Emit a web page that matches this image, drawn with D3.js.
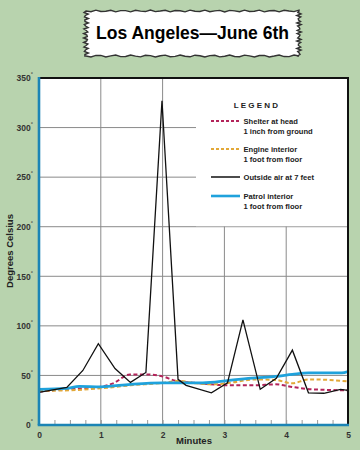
<!DOCTYPE html>
<html><head><meta charset="utf-8">
<script src="https://cdn.jsdelivr.net/npm/d3@7"></script>
<style>body{margin:0;background:#b8d3ae;}svg{display:block;}</style>
</head><body>
<script>
const minutesBlack = [0,0.45,0.71,0.96,1.23,1.48,1.73,1.99,2.25,2.38,2.79,3.05,3.30,3.58,3.84,4.10,4.36,4.61,4.88,5];
const outsideAir  = [33,38,55,82,57,43,53,327,46,40,32.5,42.5,106,36,47,75.5,32.5,32,36,35];
const minutesBlue = [0,0.45,0.65,1.0,1.48,2.0,2.33,2.65,3.08,3.5,3.83,4.1,4.36,4.68,4.9,5];
const patrol      = [36,37,39,38.5,41,42.5,42.5,42.5,45,47.5,49,51,52.5,52.5,52.5,54];
const minutesRed  = [0,0.4,0.93,1.2,1.47,1.74,2.0,2.22,2.54,3.08,3.5,3.82,4.14,4.42,5];
const shelter     = [33.5,36,38,42,51,51,49,44.5,42.5,40,40,41,38,36,35];
const minutesOrg  = [0,0.5,1.0,1.48,2.0,2.27,2.54,2.87,3.08,3.5,3.82,4.1,4.36,4.68,5];
const engine      = [34.5,35,37,40,42.5,44.5,42,41,42.5,46,45.5,42,46,45.5,44];
const yTicks = [0,50,100,150,200,250,300,350];
const xTicks = [0,1,2,3,4,5];
const legendLabels = [["Shelter at head","1 inch from ground"],["Engine interior","1 foot from floor"],["Outside air at 7 feet"],["Patrol interior","1 foot from floor"]];
const title = "Los Angeles\u2014June 6th";

const W=360,H=450;
const svg=d3.select("body").append("svg").attr("width",W).attr("height",H);
svg.append("rect").attr("width",W).attr("height",H).attr("fill","#b8d3ae");

const x=d3.scaleLinear().domain([0,5]).range([39,348]);
const y=d3.scaleLinear().domain([0,350]).range([425,78]);
const font="Liberation Sans, Arial, sans-serif";

// Title box with rough edge
(function(){
  const x0=86,x1=299,y0=11,y1=56;
  const pts=[];
  for(let i=0;i<=43;i++){const t=x0+(x1-x0)*i/43;pts.push([t,y0+Math.sin(i*2.3)*0.9]);}
  for(let i=0;i<=30;i++){const t=y0+(y1-y0)*i/30;pts.push([x1+Math.sin(i*3.7)*2.2,t]);}
  for(let i=43;i>=0;i--){const t=x0+(x1-x0)*i/43;pts.push([t,y1+Math.sin(i*1.9)*1.0]);}
  for(let i=30;i>=0;i--){const t=y0+(y1-y0)*i/30;pts.push([x0+Math.sin(i*4.1)*2.4,t]);}
  svg.append("path").attr("d",d3.line()(pts)+"Z").attr("fill","#fff").attr("stroke","#333").attr("stroke-width",1.4);
  svg.append("text").attr("x",192.5).attr("y",38.5).attr("text-anchor","middle")
    .attr("font-family",font).attr("font-weight","bold").attr("font-size",17.5).attr("fill","#000").text(title);
})();

// plot background
svg.append("rect").attr("x",x(0)).attr("y",y(350)).attr("width",x(5)-x(0)).attr("height",y(0)-y(350)).attr("fill","#fff");

// grid
const g=svg.append("g");
g.selectAll("line.v").data(xTicks.slice(1,-1)).join("line").attr("x1",d=>x(d)).attr("x2",d=>x(d))
  .attr("y1",y(350)).attr("y2",y(0)).attr("stroke","#8a8a8a").attr("stroke-width",1);
g.selectAll("line.h").data(yTicks.slice(1,-1)).join("line").attr("y1",d=>y(d)).attr("y2",d=>y(d))
  .attr("x1",x(0)).attr("x2",x(5)).attr("stroke","#8a8a8a").attr("stroke-width",1);

// minor ticks
const minor=d3.range(1,20).map(i=>i*0.25);
svg.append("g").attr("transform",`translate(0,${y(0)})`)
  .call(d3.axisBottom(x).tickValues(minor).tickSize(-5).tickFormat(""))
  .call(a=>a.select(".domain").remove())
  .call(a=>a.selectAll("line").attr("stroke","#999"));

// legend box
svg.append("rect").attr("x",196).attr("y",y(350)+1).attr("width",x(5)-196).attr("height",y(200)-y(350)-1.5).attr("fill","#fff");

// lines
const line=(xs)=>d3.line().x((d,i)=>x(xs[i])).y(d=>y(d));
svg.append("path").datum(shelter).attr("d",line(minutesRed).curve(d3.curveMonotoneX)).attr("fill","none")
  .attr("stroke","#b3245a").attr("stroke-width",2).attr("stroke-dasharray","4,2.5");
svg.append("path").datum(engine).attr("d",line(minutesOrg).curve(d3.curveMonotoneX)).attr("fill","none")
  .attr("stroke","#e2a838").attr("stroke-width",2).attr("stroke-dasharray","4,2.5");
svg.append("path").datum(patrol).attr("d",line(minutesBlue).curve(d3.curveMonotoneX)).attr("fill","none")
  .attr("stroke","#1fa2dc").attr("stroke-width",2.8);
svg.append("path").datum(outsideAir).attr("d",line(minutesBlack)).attr("fill","none")
  .attr("stroke","#111").attr("stroke-width",1.3).attr("stroke-linejoin","miter");

// borders
svg.append("line").attr("x1",x(0)).attr("x2",x(5)+1).attr("y1",y(350)).attr("y2",y(350)).attr("stroke","#111").attr("stroke-width",2);
svg.append("line").attr("x1",x(5)).attr("x2",x(5)).attr("y1",y(350)).attr("y2",y(0)).attr("stroke","#111").attr("stroke-width",2);
svg.append("line").attr("x1",x(0)).attr("x2",x(0)).attr("y1",y(350)-1).attr("y2",y(0)).attr("stroke","#1b84b5").attr("stroke-width",2.6);
svg.append("line").attr("x1",x(0)-1.3).attr("x2",x(5)+1).attr("y1",y(0)).attr("y2",y(0)).attr("stroke","#1b84b5").attr("stroke-width",2.6);

// y axis labels
const ya=svg.append("g").attr("transform",`translate(${x(0)-3},0)`)
  .call(d3.axisLeft(y).tickValues(yTicks).tickSize(0).tickFormat(d=>d));
ya.select(".domain").remove();
ya.selectAll("text").attr("font-family",font).attr("font-weight","bold").attr("font-size",8.5).attr("fill","#333").attr("dy","0.32em")
  .each(function(){d3.select(this).append("tspan").attr("font-size",5.5).attr("dy","-0.9em").text("\u00B0");});
ya.selectAll("text").attr("dx",0);

// x axis labels
const xa=svg.append("g").attr("transform",`translate(0,${y(0)+4})`)
  .call(d3.axisBottom(x).tickValues(xTicks).tickSize(0).tickFormat(d3.format("d")));
xa.select(".domain").remove();
xa.selectAll("text").attr("font-family",font).attr("font-weight","bold").attr("font-size",8.5).attr("fill","#333");

svg.append("text").attr("x",194).attr("y",444).attr("text-anchor","middle").attr("font-family",font)
  .attr("font-weight","bold").attr("font-size",9.5).attr("fill","#222").text("Minutes");
svg.append("text").attr("transform","translate(13,251) rotate(-90)").attr("text-anchor","middle").attr("font-family",font)
  .attr("font-weight","bold").attr("font-size",9.5).attr("fill","#222").text("Degrees Celsius");

// legend
const lg=svg.append("g");
lg.append("text").attr("x",257).attr("y",108).attr("text-anchor","middle").attr("font-family",font)
  .attr("font-weight","bold").attr("font-size",8).attr("letter-spacing",2.2).attr("fill","#222").text("LEGEND");
const legStyles=[{c:"#b3245a",w:1.8,da:"3,2"},{c:"#e2a838",w:1.8,da:"3,2"},{c:"#111",w:1.5,da:null},{c:"#1fa2dc",w:2.6,da:null}];
const legY=[121,149,177,196];
legStyles.forEach((s,i)=>{
  lg.append("line").attr("x1",211).attr("x2",240).attr("y1",legY[i]).attr("y2",legY[i])
    .attr("stroke",s.c).attr("stroke-width",s.w).attr("stroke-dasharray",s.da);
  legendLabels[i].forEach((t,j)=>{
    lg.append("text").attr("x",243.5).attr("y",legY[i]+2.7+j*10).attr("font-family",font).attr("font-weight","bold")
      .attr("font-size",7.6).attr("fill","#222").text(t);
  });
});
</script>
</body></html>
